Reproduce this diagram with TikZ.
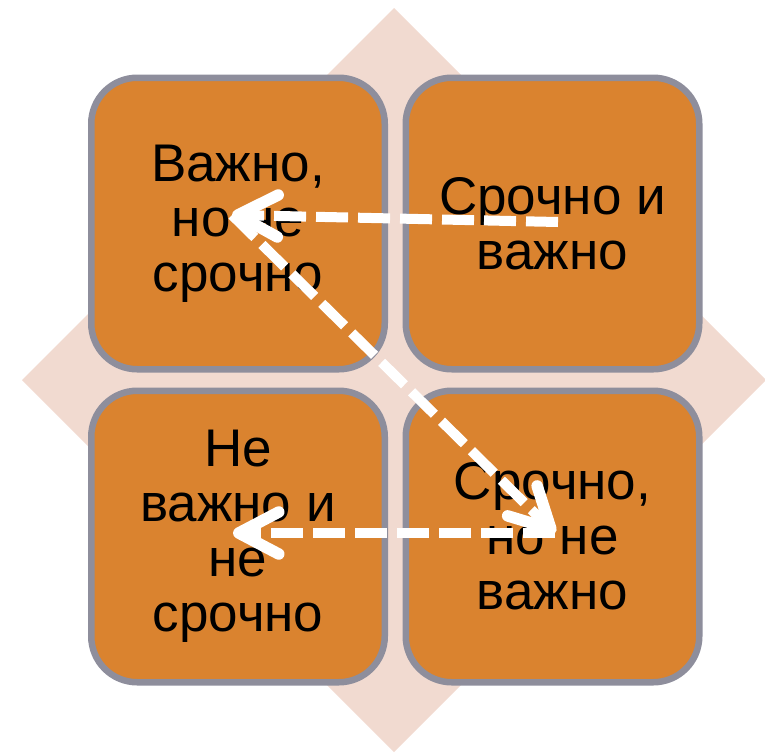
\documentclass[tikz,border=0pt]{standalone}
\usepackage{fontspec}
\setmainfont{Liberation Sans}
\usetikzlibrary{arrows.meta}
\definecolor{diam}{HTML}{F1DAD0}
\definecolor{quadfill}{HTML}{DA832F}
\definecolor{quadline}{HTML}{8E8E9C}
\begin{document}
\begin{tikzpicture}[x=1pt,y=-1pt,
  quad/.style={draw=quadline, fill=quadfill, line width=6.5pt, rounded corners=46pt,
    minimum width=293.5pt, minimum height=291.5pt, inner sep=0pt, align=center,
    font=\fontsize{53}{55}\selectfont, text=black},
  flow/.style={draw=white, line width=10pt, dash pattern=on 32pt off 10pt,
    -{Straight Barb[length=40pt, width=42pt, line width=11.5pt, round]}}]
\useasboundingbox (0,0) rectangle (765,753);
\fill[diam] (394,8) -- (766,380) -- (394,752) -- (22,380) -- cycle;
\node[quad] (tl) at (238,223.5) {Важно,\\но не\\срочно};
\node[quad] (tr) at (552.5,223.5) {Срочно и\\важно};
\node[quad] (bl) at (238,536.5) {Не\\важно и\\не\\срочно};
\node[quad] (br) at (552.5,536.5) {Срочно,\\но не\\важно};
\coordinate (a1s) at (558,222);
\coordinate (a1e) at (232,215);
\coordinate (a2e) at (555,533);
\coordinate (a3e) at (233,533);
\draw[flow] (a1s) -- (a1e);
\draw[flow] (a1e) -- (a2e);
\draw[flow] (a2e) -- (a3e);
\end{tikzpicture}
\end{document}
